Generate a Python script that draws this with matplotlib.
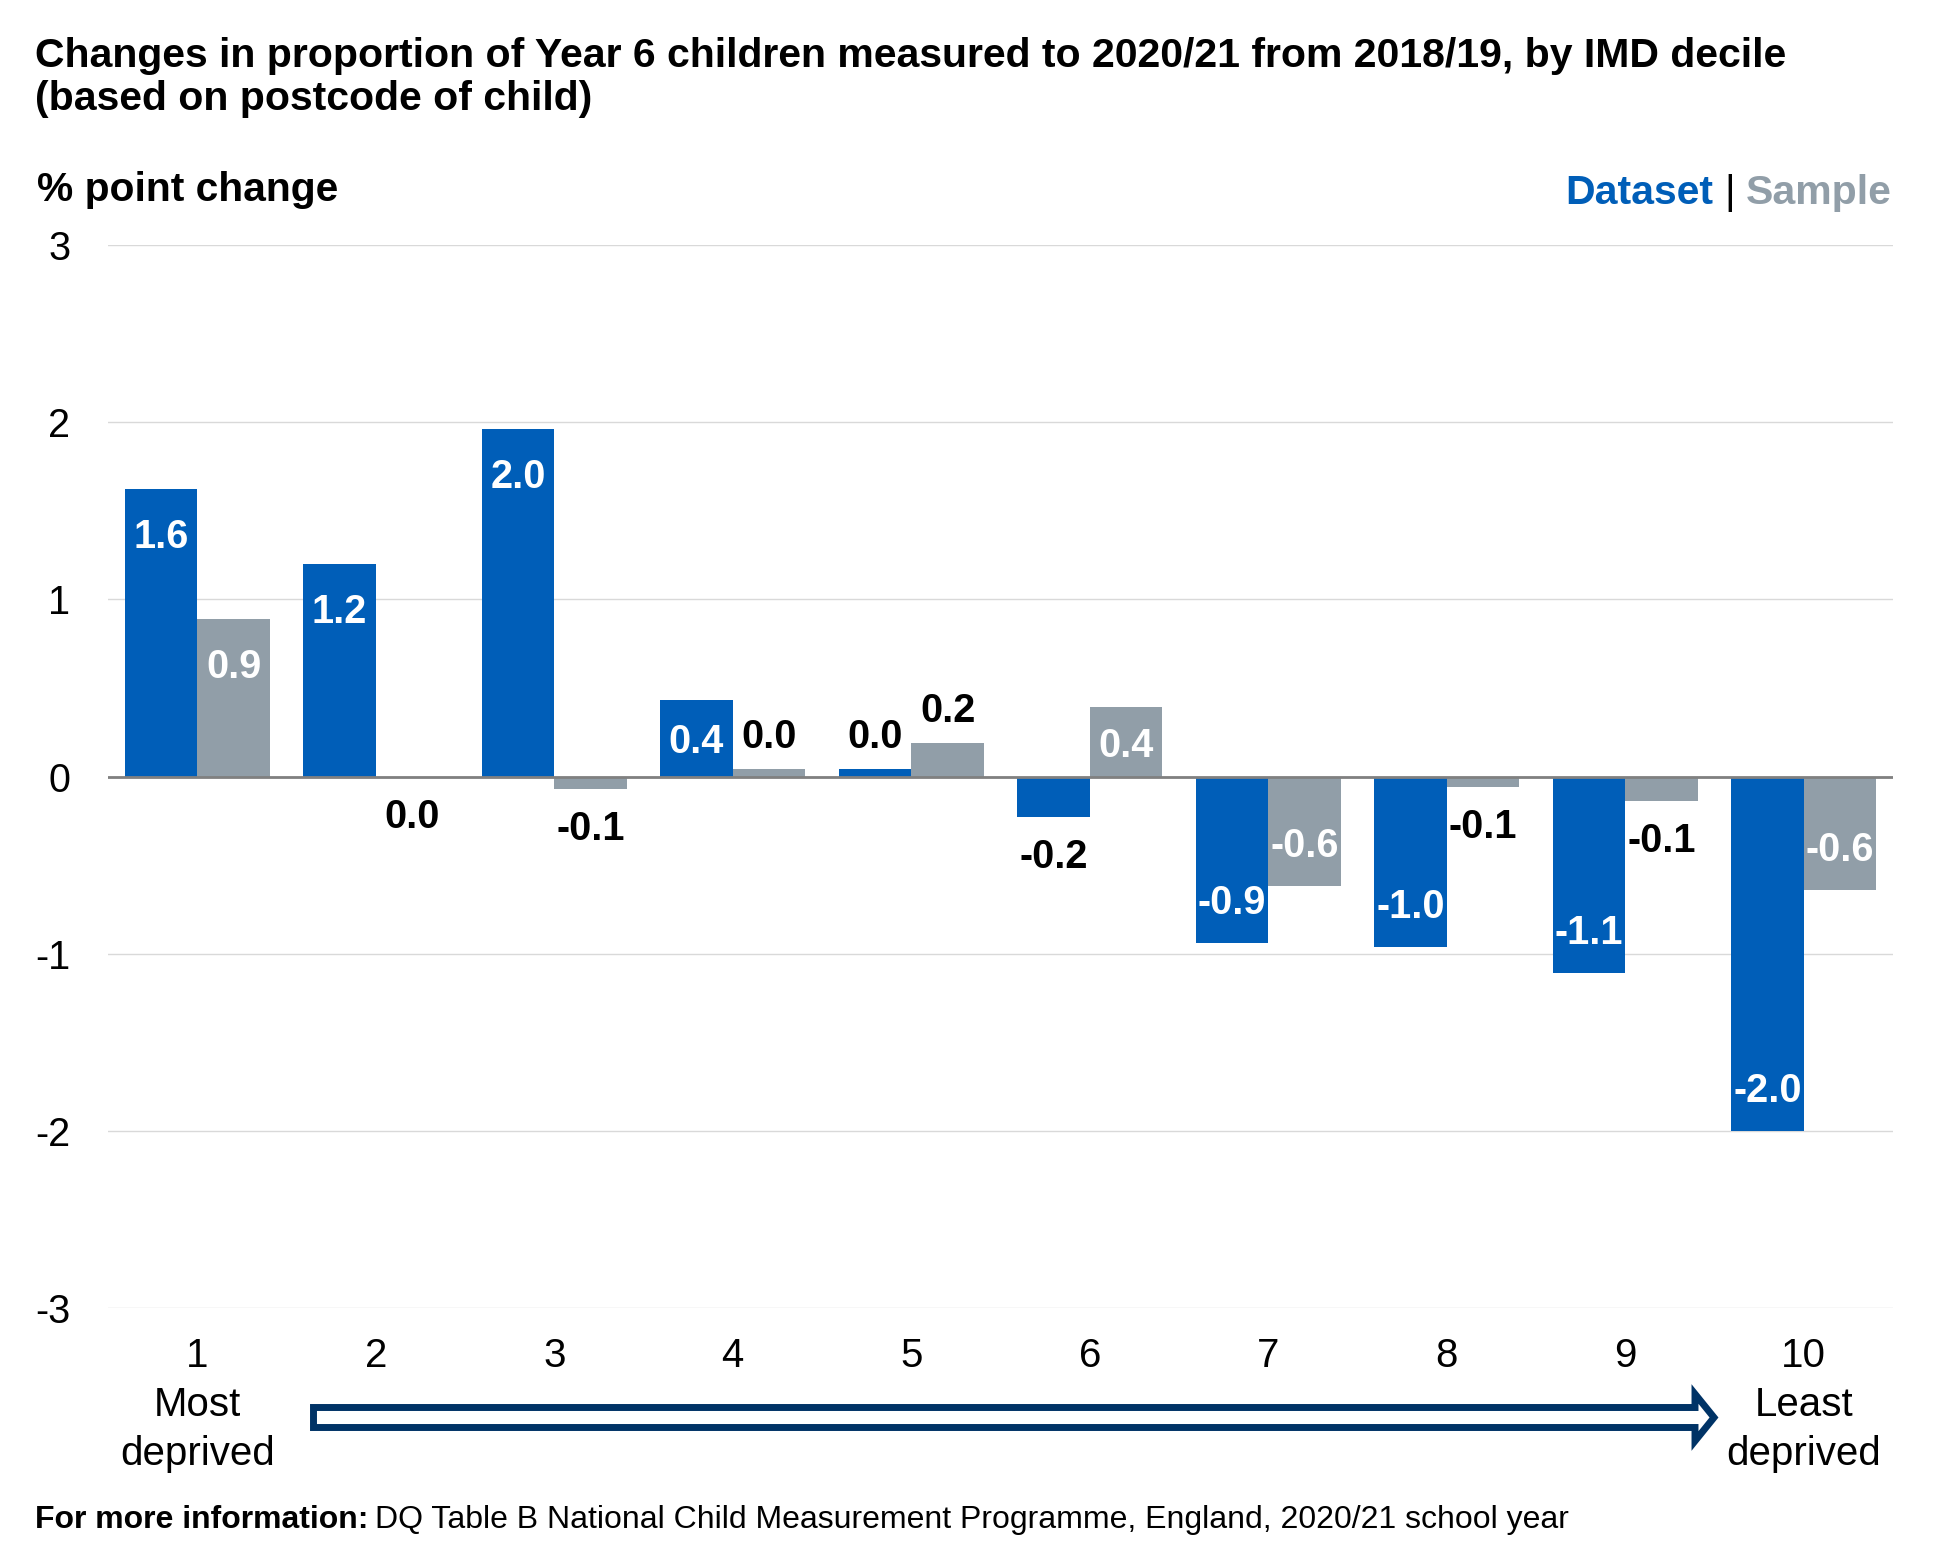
import matplotlib
matplotlib.use("Agg")
import matplotlib.pyplot as plt
from matplotlib.patches import Polygon
import numpy as np

plt.rcParams['font.family'] = ['Liberation Sans', 'DejaVu Sans']

# ---- data ----
deciles = ["1", "2", "3", "4", "5", "6", "7", "8", "9", "10"]
dataset = [1.62, 1.20, 1.96, 0.43, 0.04, -0.23, -0.94, -0.96, -1.11, -2.00]
sample = [0.89, 0.00, -0.07, 0.04, 0.19, 0.39, -0.62, -0.06, -0.14, -0.64]
yticks = [-3, -2, -1, 0, 1, 2, 3]
title_lines = ["Changes in proportion of Year 6 children measured to 2020/21 from 2018/19, by IMD decile",
               "(based on postcode of child)"]

BLUE = "#005EB8"
GREY = "#919EA8"
NAVY = "#003366"

W, H = 1949, 1559
fig = plt.figure(figsize=(W / 100, H / 100), dpi=100)
ax = fig.add_axes([108 / W, 1 - 1308 / H, (1893 - 108) / W, (1308 - 245) / H])

x = np.arange(1, len(deciles) + 1)
bw = 0.407
ax.bar(x - bw / 2, dataset, bw, color=BLUE, zorder=2)
ax.bar(x + bw / 2, sample, bw, color=GREY, zorder=2)

ax.set_xlim(0.5, 10.5)
ax.set_ylim(-3, 3)
ax.set_yticks(yticks)
ax.set_yticklabels([str(t) for t in yticks], fontsize=28.5)
ax.tick_params(axis='y', length=0, pad=27)
ticklabels = list(deciles)
ticklabels[0] = "1\nMost\ndeprived"
ticklabels[-1] = "10\nLeast\ndeprived"
ax.set_xticks(x)
ax.set_xticklabels(ticklabels, fontsize=29, linespacing=1.36)
ax.tick_params(axis='x', length=0, pad=21)
for s in ax.spines.values():
    s.set_visible(False)
ax.grid(axis='y', color='#d9d9d9', linewidth=1, zorder=0)
ax.axhline(0, color='#808080', linewidth=2, zorder=3)

# data labels
px_per_unit = (1308 - 245) / 6.0
def label_bars(xs, vals):
    for xi, v in zip(xs, vals):
        txt = f"{v:.1f}"
        bar_px = abs(v) * px_per_unit
        sign = 1 if v > 0 else -1
        if bar_px > 55:
            off_px = min(44, bar_px / 2)
            dy = -sign * off_px
            col = 'white'
        else:
            dy = sign * 36
            col = 'black'
        dy -= 4
        ax.annotate(txt, (xi, v), xytext=(0, dy * 0.72), textcoords='offset points',
                    ha='center', va='center', fontsize=28.5, fontweight='bold', color=col, zorder=4)

label_bars(x - bw / 2, dataset)
label_bars(x + bw / 2, sample)

# title and annotations
fig.text(35 / W, 1 - 67 / H, title_lines[0], fontsize=29.5, fontweight='bold', ha='left', va='baseline')
fig.text(35 / W, 1 - 110 / H, title_lines[1], fontsize=29.5, fontweight='bold', ha='left', va='baseline')
fig.text(37 / W, 1 - 201 / H, "% point change", fontsize=29.3, fontweight='bold', ha='left', va='baseline')

# legend text
fig.canvas.draw()
r = fig.canvas.get_renderer()
ly = 1 - 204 / H
t3 = fig.text(1892 / W, ly, "Sample", fontsize=29.5, fontweight='bold', color=GREY, ha='right', va='baseline')
w3 = t3.get_window_extent(r).width
t2 = fig.text((1892 - w3 - 11) / W, ly, "|", fontsize=29.5, color='black', ha='right', va='baseline')
w2 = t2.get_window_extent(r).width
fig.text((1892 - w3 - 11 - w2 - 11) / W, ly, "Dataset", fontsize=29.5, fontweight='bold', color=BLUE,
         ha='right', va='baseline')

# footer
fy = 1 - 1528 / H
f1 = fig.text(35 / W, fy, "For more information:", fontsize=23.0, fontweight='bold', ha='left', va='baseline')
fw = f1.get_window_extent(r).width
fig.text((35 + fw + 7) / W, fy, "DQ Table B National Child Measurement Programme, England, 2020/21 school year",
         fontsize=23.0, ha='left', va='baseline')

# arrow (decoration)
pts = [(313.5, 1407.5), (1695, 1407.5), (1695, 1394), (1714, 1417.5), (1695, 1441), (1695, 1427.5), (313.5, 1427.5)]
poly = Polygon([(px / W, 1 - py / H) for px, py in pts], closed=True, transform=fig.transFigure,
               facecolor='white', edgecolor=NAVY, linewidth=5.0, joinstyle='miter')
fig.patches.append(poly)

fig.savefig("out.png", dpi=100)
